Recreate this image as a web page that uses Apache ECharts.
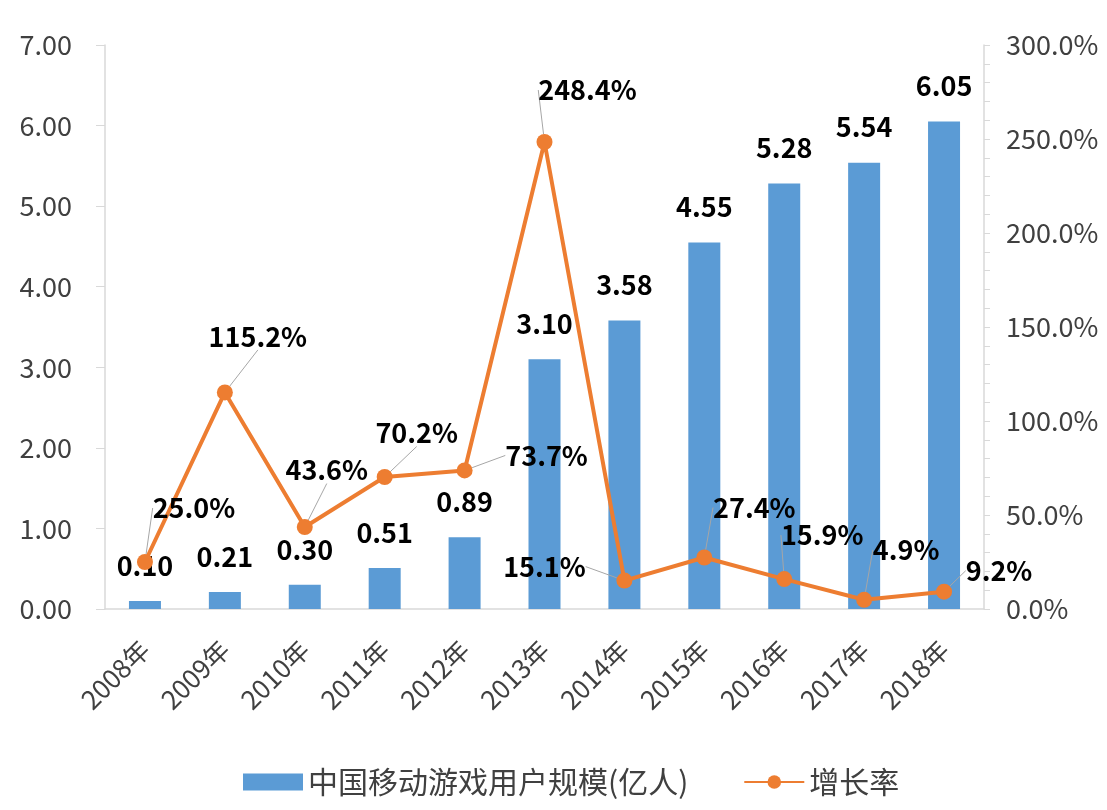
<!DOCTYPE html>
<html>
  <head>
    <meta charset='UTF-8'>
    <title>中国移动游戏用户规模</title>
    <script src="https://cdn.jsdelivr.net/npm/echarts@6/dist/echarts.min.js"></script>
    <style>
      html, body { margin: 0; padding: 0; background: #fff; }
    </style>
  </head>
  <body>
    <div id="main" style="width: 1107px;height:810px;"></div>
    <script type="text/javascript">
      // 数据
      var years = ['2008年','2009年','2010年','2011年','2012年','2013年','2014年','2015年','2016年','2017年','2018年'];
      var users = [0.10, 0.21, 0.30, 0.51, 0.89, 3.10, 3.58, 4.55, 5.28, 5.54, 6.05];   // 亿人
      var growth = [25.0, 115.2, 43.6, 70.2, 73.7, 248.4, 15.1, 27.4, 15.9, 4.9, 9.2];  // %

      // 增长率标签相对数据点的偏移 (像Excel里手动拖过的标签)
      var growthLabelOffset = [
        [49, -54], [33, -56], [22, -57], [32, -44], [82, -15], [43, -52],
        [-80, -14], [50, -50], [38, -44], [42, -50], [55, -21]
      ];

      var font = '"Noto Sans CJK SC", "Noto Sans", sans-serif';
      var myChart = echarts.init(document.getElementById('main'));
      var option = {
        animation: false,
        textStyle: { fontFamily: font },
        grid: { left: 105, right: 123, top: 45, bottom: 201, containLabel: false },
        legend: {
          bottom: 8,
          left: 238,
          itemWidth: 60,
          itemHeight: 17,
          itemGap: 55,
          textStyle: { fontSize: 30, color: '#404040', fontFamily: font },
          data: [
            { name: '中国移动游戏用户规模(亿人)', icon: 'rect' },
            { name: '增长率' }
          ]
        },
        xAxis: {
          type: 'category',
          data: years,
          axisLine: { lineStyle: { color: '#d9d9d9', width: 1.5 } },
          axisTick: { show: false },
          axisLabel: { rotate: 45, fontSize: 26, color: '#404040', margin: 36, interval: 0 }
        },
        yAxis: [
          {
            type: 'value',
            min: 0, max: 7, interval: 1,
            axisLine: { show: true, lineStyle: { color: '#d9d9d9', width: 1.5 } },
            axisTick: { show: true, length: 9, lineStyle: { color: '#d9d9d9' } },
            splitLine: { show: false },
            axisLabel: {
              fontSize: 27, color: '#404040', margin: 33,
              formatter: function (v) { return v.toFixed(2); }
            }
          },
          {
            type: 'value',
            min: 0, max: 300, interval: 50,
            axisLine: { show: true, lineStyle: { color: '#d9d9d9', width: 1.5 } },
            axisTick: { show: true, length: 6, lineStyle: { color: '#d9d9d9' } },
            minorTick: { show: true, splitNumber: 5, length: 6, lineStyle: { color: '#d9d9d9' } },
            splitLine: { show: false },
            axisLabel: {
              fontSize: 27, color: '#404040', margin: 22,
              formatter: function (v) { return v.toFixed(1) + '%'; }
            }
          }
        ],
        series: [
          {
            name: '中国移动游戏用户规模(亿人)',
            type: 'bar',
            data: users,
            barWidth: 32,
            itemStyle: { color: '#5b9bd5' },
            label: {
              show: true,
              position: 'top',
              distance: 22,
              fontSize: 27,
              fontWeight: 'bold',
              color: '#000',
              formatter: function (p) { return p.value.toFixed(2); }
            }
          },
          {
            name: '增长率',
            type: 'line',
            yAxisIndex: 1,
            data: growth,
            symbol: 'circle',
            symbolSize: 16,
            z: 5,
            lineStyle: { color: '#ed7d31', width: 4 },
            itemStyle: { color: '#ed7d31' },
            label: {
              show: true,
              position: 'inside',
              fontSize: 27,
              fontWeight: 'bold',
              color: '#000',
              formatter: function (p) { return p.value.toFixed(1) + '%'; }
            },
            labelLine: {
              show: true,
              lineStyle: { color: '#a6a6a6', width: 1 }
            },
            labelLayout: function (params) {
              var o = growthLabelOffset[params.dataIndex];
              return { dx: o[0], dy: o[1] };
            }
          }
        ]
      };
      myChart.setOption(option);
    </script>
  </body>
</html>
